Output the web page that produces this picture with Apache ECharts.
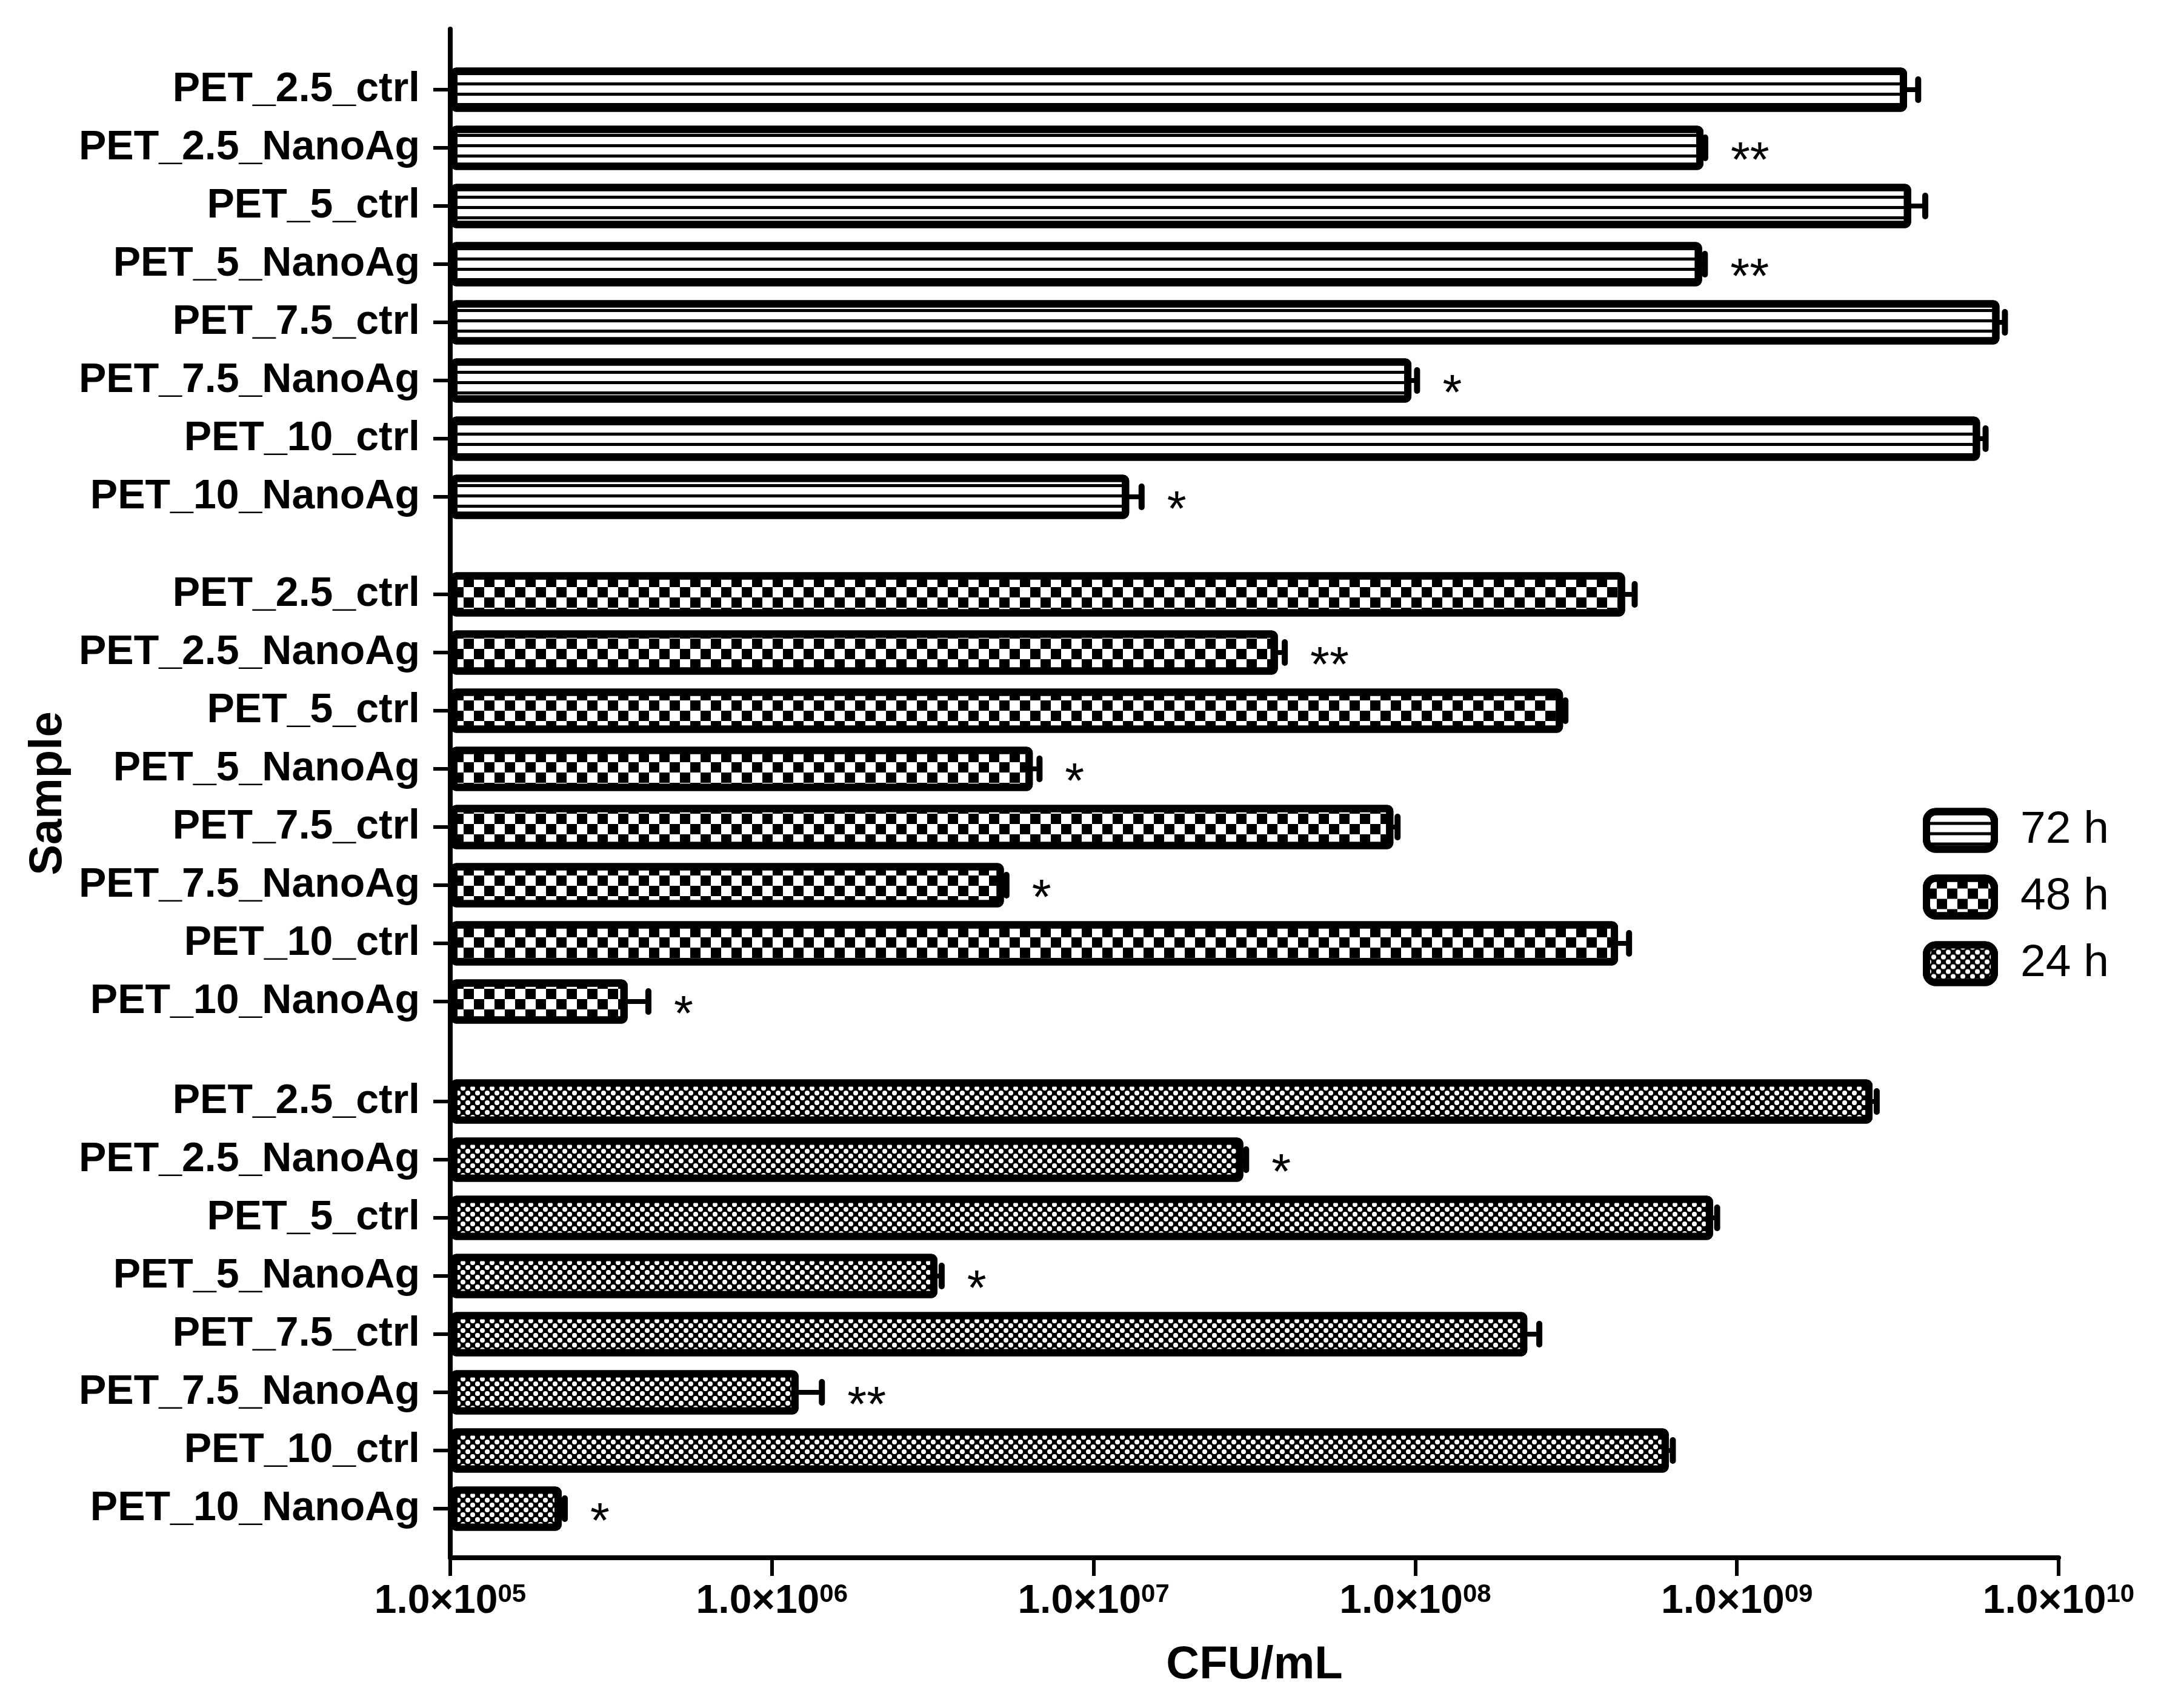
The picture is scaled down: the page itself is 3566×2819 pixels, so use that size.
<!DOCTYPE html>
<html>
<head>
<meta charset="utf-8">
<script src="https://cdn.jsdelivr.net/npm/echarts@6.0.0/dist/echarts.min.js"></script>
<style>
  html, body { margin: 0; padding: 0; background: #fff; }
  #chart { width: 3566px; height: 2819px; }
</style>
</head>
<body>
<div id="chart"></div>
<script>
// samples, top to bottom in each block
var samples = ['PET_2.5_ctrl', 'PET_2.5_NanoAg', 'PET_5_ctrl', 'PET_5_NanoAg',
               'PET_7.5_ctrl', 'PET_7.5_NanoAg', 'PET_10_ctrl', 'PET_10_NanoAg']
var groups = ['72 h', '48 h', '24 h']

// CFU/mL means
var mean72 = [3.38e9, 7.87e8, 3.48e9, 7.79e8, 6.55e9, 9.73e7, 5.70e9, 1.29e7]
var mean48 = [4.49e8, 3.74e7, 2.88e8, 6.47e6, 8.55e7, 5.26e6, 4.27e8, 3.56e5]
var mean24 = [2.64e9, 2.92e7, 8.43e8, 3.27e6, 2.23e8, 1.21e6, 6.14e8, 2.22e5]

// error bar (upper) sizes
var sd72 = [2.8e8, 1.0e7, 3.7e8, 1.6e7, 2.6e8, 4.0e6, 2.3e8, 1.2e6]
var sd48 = [3.2e7, 1.9e6, 5.0e6, 3.2e5, 2.6e6, 1.0e5, 3.5e7, 5.7e4]
var sd24 = [8.0e7, 6.0e5, 2.5e7, 1.0e5, 2.0e7, 2.2e5, 1.8e7, 5.0e3]

// significance marks
var sig72 = ['', '**', '', '**', '', '*', '', '*']
var sig48 = ['', '**', '', '*', '', '*', '', '*']
var sig24 = ['', '*', '', '*', '', '**', '', '*']

var xTicks = [1e5, 1e6, 1e7, 1e8, 1e9, 1e10]

var FONT = '"Liberation Sans", Arial, sans-serif'
var means = [mean72, mean48, mean24]
var sds = [sd72, sd48, sd24]
var sigs = [sig72, sig48, sig24]

// fill patterns
var decals = [
    {symbol: 'rect', symbolSize: 1, color: '#000', dashArrayX: [1, 0], dashArrayY: [5, 12]},
    {symbol: 'rect', symbolSize: 1, color: '#000', dashArrayX: [[17, 17], [0, 17, 17, 0]], dashArrayY: [17, 0]},
    {symbol: 'circle', symbolSize: 1, color: '#fff', dashArrayX: [[8, 8], [0, 8, 8, 0]], dashArrayY: [8, 0]}
]
var baseColors = ['#fff', '#fff', '#000']

var gridTops = [100, 933, 1770]
var gridH = 768
var L = 743, R = 3566 - 3397

var grids = [{left: L, right: R, top: 48, bottom: 2819 - 2571}]
var xAxes = [{
    type: 'log', gridIndex: 0, min: 1e5, max: 1e10, logBase: 10,
    axisLine: {show: true, lineStyle: {color: '#000', width: 8}},
    axisTick: {show: true, length: 30, lineStyle: {color: '#000', width: 6}},
    splitLine: {show: false},
    axisLabel: {
        margin: 40, color: '#000', fontFamily: FONT, fontWeight: 'bold', fontSize: 66,
        formatter: function (v) {
            var e = Math.round(Math.log10(v))
            if (xTicks.indexOf(Math.pow(10, e)) < 0) return ''
            return '1.0\u00d710{sup|' + (e < 10 ? '0' + e : '' + e) + '}'
        },
        rich: {sup: {fontSize: 42, fontWeight: 'bold', fontFamily: FONT, color: '#000', verticalAlign: 'top', lineHeight: 42}}
    },
    name: 'CFU/mL', nameLocation: 'middle', nameGap: 140,
    nameTextStyle: {color: '#000', fontFamily: FONT, fontWeight: 'bold', fontSize: 76}
}]
var yAxes = [{
    type: 'value', gridIndex: 0, min: 0, max: 1,
    axisLine: {show: true, lineStyle: {color: '#000', width: 8}},
    axisTick: {show: false}, axisLabel: {show: false}, splitLine: {show: false},
    name: 'Sample', nameLocation: 'middle', nameGap: 625, nameRotate: 90,
    nameTextStyle: {color: '#000', fontFamily: FONT, fontWeight: 'bold', fontSize: 76}
}]
var series = []

groups.forEach(function (g, i) {
    var gi = i + 1
    grids.push({left: L, right: R, top: gridTops[i], height: gridH})
    xAxes.push({type: 'log', gridIndex: gi, min: 1e5, max: 1e10, startValue: 1e5, show: false, splitLine: {show: false}})
    yAxes.push({
        type: 'category', gridIndex: gi, data: samples, inverse: true,
        axisLine: {show: false},
        axisTick: {show: true, alignWithLabel: true, length: 28, lineStyle: {color: '#000', width: 6}},
        axisLabel: {margin: 50, color: '#000', fontFamily: FONT, fontWeight: 'bold', fontSize: 68}
    })
    series.push({
        name: g, type: 'bar', xAxisIndex: gi, yAxisIndex: gi,
        data: means[i], barWidth: 73,
        itemStyle: {color: baseColors[i], borderColor: '#000', borderWidth: 12, borderRadius: 4, decal: decals[i]},
        emphasis: {disabled: true}
    })
    var errData = means[i].map(function (m, k) { return [m, k, sds[i][k]] })
    var sg = sigs[i]
    series.push({
        type: 'custom', xAxisIndex: gi, yAxisIndex: gi, z: 5, clip: false,
        encode: {x: 0, y: 1},
        data: errData,
        renderItem: function (params, api) {
            var m = api.value(0), k = api.value(1), e = api.value(2)
            var p0 = api.coord([m, k])
            var p1 = api.coord([m + e, k])
            return {
                type: 'group',
                children: [
                    {type: 'line', shape: {x1: p0[0] - 6, y1: p0[1], x2: p1[0], y2: p1[1]},
                        style: {stroke: '#000', lineWidth: 8}},
                    {type: 'line', shape: {x1: p1[0], y1: p1[1] - 17, x2: p1[0], y2: p1[1] + 17},
                        style: {stroke: '#000', lineWidth: 10, lineCap: 'round'}},
                    {type: 'text', x: p1[0] + 42, y: p1[1] + 24,
                        style: {text: sg[params.dataIndex], fontSize: 82, fontFamily: FONT, fill: '#000',
                            align: 'left', verticalAlign: 'middle'}}
                ]
            }
        }
    })
})

var chart = echarts.init(document.getElementById('chart'), null, {renderer: 'canvas'})
chart.setOption({
    animation: false,
    backgroundColor: '#fff',
    grid: grids,
    xAxis: xAxes,
    yAxis: yAxes,
    legend: {
        data: groups, orient: 'vertical', left: 3168, top: 1328,
        itemWidth: 112, itemHeight: 62, itemGap: 35, icon: 'roundRect',
        itemStyle: {borderColor: '#000', borderWidth: 12},
        textStyle: {color: '#000', fontFamily: FONT, fontSize: 75, padding: [0, 0, 0, 38]}
    },
    series: series
})
</script>
</body>
</html>
